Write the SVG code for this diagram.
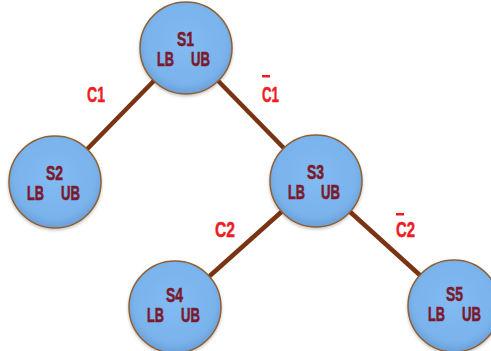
<svg xmlns="http://www.w3.org/2000/svg" width="491" height="351" viewBox="0 0 491 351">
<defs>
<radialGradient id="g" cx="0.5" cy="0.45" r="0.55">
<stop offset="0" stop-color="#82bbf2"/>
<stop offset="0.8" stop-color="#7ab3ec"/>
<stop offset="1" stop-color="#6a9fd6"/>
</radialGradient>
<filter id="sh" x="-20%" y="-20%" width="140%" height="140%">
<feDropShadow dx="0" dy="1.5" stdDeviation="1.5" flood-color="#000" flood-opacity="0.25"/>
</filter>
</defs>
<style>
.edge{stroke:#7a3412;stroke-width:4.5;stroke-linecap:butt}
.node circle{fill:url(#g);stroke:#8e5f34;stroke-width:1.5;filter:url(#sh)}
.t{font-family:"Liberation Sans Narrow","Liberation Sans",Arial,sans-serif;font-weight:bold;font-size:21px;fill:#7a1a2c;stroke:#7a1a2c;stroke-width:0.6}
.lbl{font-family:"Liberation Sans Narrow","Liberation Sans",Arial,sans-serif;font-weight:bold;font-size:22px;fill:#ee1c24;stroke:#ee1c24;stroke-width:0.5}
.bar{fill:#ee1c24}
</style>
<g id="connectors">
<line class="edge" x1="186" y1="48" x2="55" y2="182"/>
<line class="edge" x1="186" y1="48" x2="316" y2="181"/>
<line class="edge" x1="316" y1="181" x2="175" y2="307"/>
<line class="edge" x1="316" y1="181" x2="454" y2="306"/>
<text class="lbl" x="87" y="102" textLength="18" lengthAdjust="spacingAndGlyphs">C1</text>
<rect class="bar" x="262" y="75" width="8" height="2.5"/>
<text class="lbl" x="262" y="102" textLength="17" lengthAdjust="spacingAndGlyphs">C1</text>
<text class="lbl" x="215" y="237" textLength="20" lengthAdjust="spacingAndGlyphs">C2</text>
<rect class="bar" x="396" y="213" width="8" height="2.5"/>
<text class="lbl" x="396" y="237" textLength="19" lengthAdjust="spacingAndGlyphs">C2</text>
</g>
<g id="S1" class="node">
<circle cx="186" cy="48" r="46"/>
<text class="t" x="177" y="46" textLength="17" lengthAdjust="spacingAndGlyphs">S1</text>
<text class="t" y="66"><tspan x="157" textLength="17" lengthAdjust="spacingAndGlyphs">LB</tspan><tspan x="191" textLength="19" lengthAdjust="spacingAndGlyphs">UB</tspan></text>
</g>
<g id="S2" class="node">
<circle cx="55" cy="182" r="46"/>
<text class="t" x="46" y="180" textLength="17" lengthAdjust="spacingAndGlyphs">S2</text>
<text class="t" y="200"><tspan x="27" textLength="17" lengthAdjust="spacingAndGlyphs">LB</tspan><tspan x="61" textLength="19" lengthAdjust="spacingAndGlyphs">UB</tspan></text>
</g>
<g id="S3" class="node">
<circle cx="316" cy="181" r="46"/>
<text class="t" x="307" y="179" textLength="17" lengthAdjust="spacingAndGlyphs">S3</text>
<text class="t" y="199"><tspan x="288" textLength="17" lengthAdjust="spacingAndGlyphs">LB</tspan><tspan x="321" textLength="19" lengthAdjust="spacingAndGlyphs">UB</tspan></text>
</g>
<g id="S4" class="node">
<circle cx="175" cy="307" r="46"/>
<text class="t" x="166" y="302" textLength="17" lengthAdjust="spacingAndGlyphs">S4</text>
<text class="t" y="322"><tspan x="147" textLength="17" lengthAdjust="spacingAndGlyphs">LB</tspan><tspan x="181" textLength="19" lengthAdjust="spacingAndGlyphs">UB</tspan></text>
</g>
<g id="S5" class="node">
<circle cx="454" cy="306" r="46"/>
<text class="t" x="446" y="301" textLength="17" lengthAdjust="spacingAndGlyphs">S5</text>
<text class="t" y="321"><tspan x="428" textLength="17" lengthAdjust="spacingAndGlyphs">LB</tspan><tspan x="462" textLength="19" lengthAdjust="spacingAndGlyphs">UB</tspan></text>
</g>
</svg>
